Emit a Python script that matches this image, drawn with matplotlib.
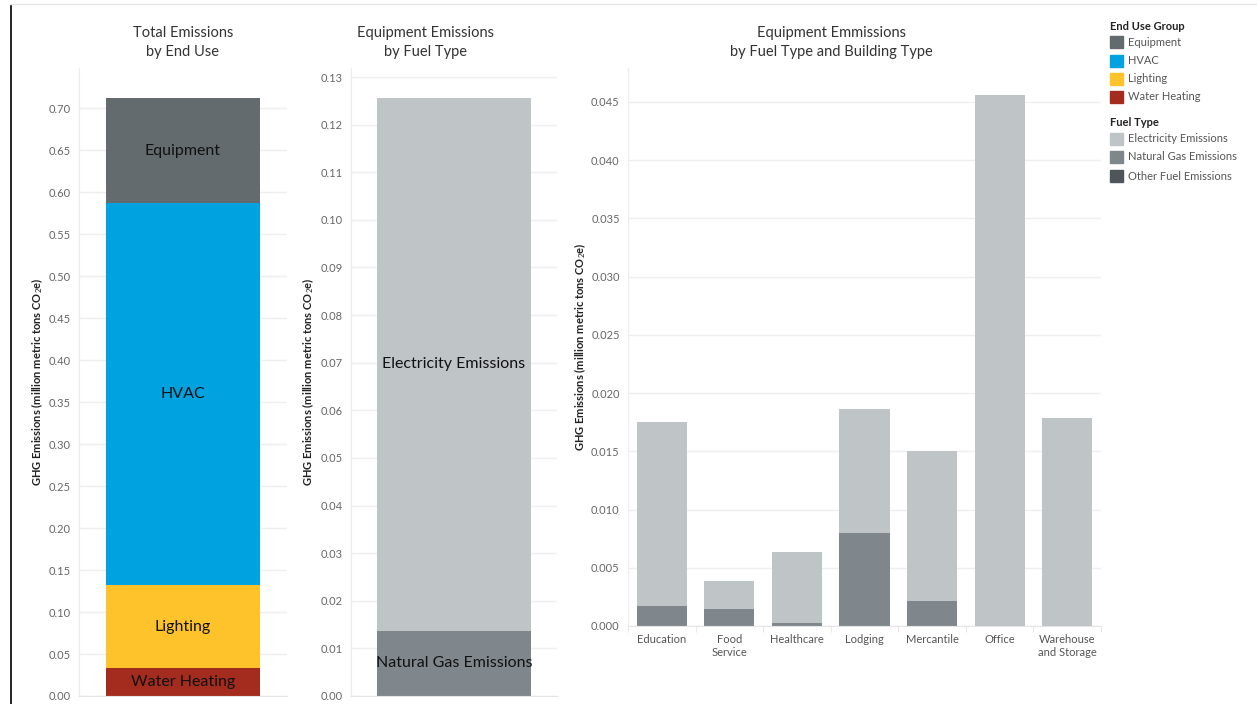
""" Building GHG emissions: end use, equipment fuel type, and building type """

import numpy as np
import matplotlib
matplotlib.use('Agg')
import matplotlib.pyplot as plt
from matplotlib.patches import Rectangle
from matplotlib.lines import Line2D


#####################################################################
#                          Data
#####################################################################

END_USES = ['Water Heating', 'Lighting', 'HVAC', 'Equipment']          # stacked bottom -> top
END_USE_VALUES = [0.033, 0.099, 0.455, 0.125]                           # million metric tons CO2e

FUEL_TYPES = ['Natural Gas Emissions', 'Electricity Emissions']        # stacked bottom -> top
FUEL_VALUES = [0.0137, 0.1119]

BUILDING_TYPES = ['Education', 'Food\nService', 'Healthcare', 'Lodging',
                  'Mercantile', 'Office', 'Warehouse\nand Storage']
NG_BY_BUILDING = [0.00172, 0.00146, 0.00026, 0.00799, 0.00218, 0.0, 0.0]
ELEC_BY_BUILDING = [0.01583, 0.00243, 0.00612, 0.01063, 0.01285, 0.0456, 0.01784]

LEGEND_END_USE = ['Equipment', 'HVAC', 'Lighting', 'Water Heating']
LEGEND_FUEL = ['Electricity Emissions', 'Natural Gas Emissions', 'Other Fuel Emissions']

COLORS = {
    'Equipment': '#636b6f',
    'HVAC': '#00a3e0',
    'Lighting': '#fec32a',
    'Water Heating': '#a32c1f',
    'Electricity Emissions': '#bfc4c6',
    'Natural Gas Emissions': '#7f878c',
    'Other Fuel Emissions': '#4f565b',
}

FONT = 'Lato'
TICK_COLOR = '#666666'
GRID_COLOR = '#efefef'
YLABEL = 'GHG Emissions (million metric tons CO$_2$e)'

plt.rcParams['font.family'] = [FONT, 'DejaVu Sans']
plt.rcParams['mathtext.fontset'] = 'custom'
plt.rcParams['mathtext.rm'] = FONT


#######################################################################
#                    Figure and axes layout
#######################################################################

W, H = 1257, 704
fig = plt.figure(figsize=(W / 100, H / 100), dpi=100)

def px_axes(x0, x1, y_top, y_bot):
    return fig.add_axes([x0 / W, 1 - y_bot / H, (x1 - x0) / W, (y_bot - y_top) / H])

ax1 = px_axes(79, 287, 68, 696)
ax2 = px_axes(351, 557, 68, 696)
ax3 = px_axes(628, 1101, 68, 626)

def style(ax, ticks, fmt):
    ax.set_yticks(ticks)
    ax.set_yticklabels([fmt.format(t) for t in ticks])
    ax.grid(axis='y', color=GRID_COLOR, lw=1)
    ax.set_axisbelow(True)
    for s in ['top', 'right']:
        ax.spines[s].set_visible(False)
    ax.spines['left'].set_color('#ececec')
    ax.spines['bottom'].set_color('#e4e4e4')
    ax.tick_params(axis='y', length=0, labelsize=8, labelcolor=TICK_COLOR, pad=6)
    ax.set_ylabel(YLABEL, fontsize=8, fontweight='bold', color='#222222')

TITLE_KW = dict(fontsize=10.5, color='#333333', pad=8.5, linespacing=1.45)


#######################################################################
#                    Panel 1: total emissions by end use
#######################################################################

bottom = 0
for name, val in zip(END_USES, END_USE_VALUES):
    ax1.bar(0, val, bottom=bottom, width=0.745, color=COLORS[name])
    ax1.text(0, bottom + val / 2, name, ha='center', va='center', fontsize=11.5, color='#111111')
    bottom += val
ax1.set_xlim(-0.5, 0.5)
ax1.set_ylim(0, 0.748)
ax1.set_xticks([])
style(ax1, np.arange(0, 0.71, 0.05), '{:.2f}')
ax1.yaxis.set_label_coords(-0.162, 0.5)
ax1.set_title('Total Emissions\nby End Use', **TITLE_KW)


#######################################################################
#                    Panel 2: equipment emissions by fuel type
#######################################################################

bottom = 0
for name, val in zip(FUEL_TYPES, FUEL_VALUES):
    ax2.bar(0, val, bottom=bottom, width=0.75, color=COLORS[name])
    ax2.text(0, bottom + val / 2, name, ha='center', va='center', fontsize=11.5, color='#111111')
    bottom += val
ax2.set_xlim(-0.5, 0.5)
ax2.set_ylim(0, 0.1319)
ax2.set_xticks([])
style(ax2, np.arange(0, 0.131, 0.01), '{:.2f}')
ax2.yaxis.set_label_coords(-0.171, 0.5)
ax2.set_title('Equipment Emissions\nby Fuel Type', x=0.36, **TITLE_KW)


#######################################################################
#                    Panel 3: by fuel type and building type
#######################################################################

x = np.arange(len(BUILDING_TYPES))
ax3.bar(x, NG_BY_BUILDING, width=0.74, color=COLORS['Natural Gas Emissions'])
ax3.bar(x, ELEC_BY_BUILDING, bottom=NG_BY_BUILDING, width=0.74, color=COLORS['Electricity Emissions'])
ax3.set_xlim(-0.5, len(x) - 0.5)
ax3.set_ylim(0, 0.0479)
ax3.set_xticks(x)
ax3.set_xticklabels(BUILDING_TYPES)
ax3.set_xticks(np.arange(-0.5, len(x)), minor=True)
ax3.tick_params(axis='x', which='major', length=0, labelsize=8, labelcolor='#555555', pad=6)
ax3.tick_params(axis='x', which='minor', length=4, color='#e4e4e4')
style(ax3, np.arange(0, 0.0451, 0.005), '{:.3f}')
ax3.yaxis.set_label_coords(-0.085, 0.5)
ax3.set_title('Equipment Emmissions\nby Fuel Type and Building Type', x=0.431, **TITLE_KW)


#######################################################################
#                    Legend and frame lines
#######################################################################

def legend_block(title, names, y_title, y_items):
    fig.text(1110 / W, 1 - y_title / H, title, fontsize=8, fontweight='bold', color='#222222', va='center')
    for name, y in zip(names, y_items):
        fig.patches.append(Rectangle((1110 / W, 1 - (y + 6) / H), 13 / W, 12 / H,
                                     transform=fig.transFigure, color=COLORS[name]))
        fig.text(1128 / W, 1 - y / H, name, fontsize=8, color='#555555', va='center')

legend_block('End Use Group', LEGEND_END_USE, 26, [42, 61, 79, 97])
legend_block('Fuel Type', LEGEND_FUEL, 123, [139, 157, 176])

fig.lines.append(Line2D([10.5 / W, 10.5 / W], [0, 1 - 5 / H], transform=fig.transFigure, color='black', lw=1.2))
fig.lines.append(Line2D([10 / W, 1], [1 - 4 / H, 1 - 4 / H], transform=fig.transFigure, color='#e6e6e6', lw=1))

plt.savefig('out.png', dpi=100)
